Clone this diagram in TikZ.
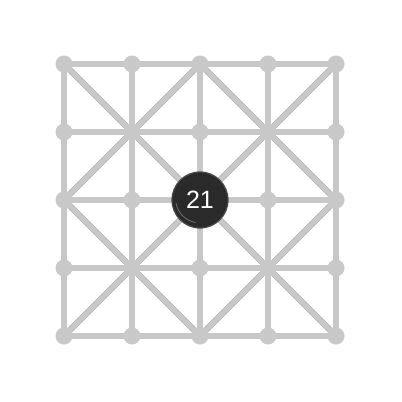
\documentclass[tikz,border=0pt]{standalone}
\usepackage{fontspec}
\setsansfont{Liberation Sans}
\begin{document}
\begin{tikzpicture}[x=1pt,y=-1pt,
  edge/.style={line width=5.5pt,draw=edgegray},
  edgeshadow/.style={line width=6pt,draw=shadowgray},
  dot/.style={circle,fill=edgegray,minimum size=17pt,inner sep=0pt},
  bignode/.style={circle,fill=darknode,draw=ringgray,line width=1.2pt,minimum size=56pt,inner sep=0pt,
    font=\sffamily\fontsize{25}{25}\selectfont,text=white}]
\definecolor{edgegray}{HTML}{C8C8C8}
\definecolor{shadowgray}{HTML}{8E8E8E}
\definecolor{darknode}{HTML}{2A2A2A}
\definecolor{ringgray}{HTML}{4A4A4A}
\useasboundingbox (0,0) rectangle (402,402);
\fill[white] (0,0) rectangle (402,402);
% coordinates
\foreach \i in {0,...,4}{
  \foreach \j in {0,...,4}{
    \coordinate (p\i\j) at ({64+68*\i},{64+68*\j});
  }
}
% edges (shadow then main)
\foreach \s/\dy in {edgeshadow/1.5,edge/0}{
  \begin{scope}[yshift=-\dy pt]
  \foreach \i in {0,...,4}{
    \draw[\s] (p\i0) -- (p\i4);
    \draw[\s] (p0\i) -- (p4\i);
  }
  \foreach \c/\d in {1/1,3/1,1/3,3/3}{
    \pgfmathtruncatemacro{\cm}{\c-1}
    \pgfmathtruncatemacro{\cp}{\c+1}
    \pgfmathtruncatemacro{\dm}{\d-1}
    \pgfmathtruncatemacro{\dp}{\d+1}
    \draw[\s] (p\cm\dm) -- (p\cp\dp);
    \draw[\s] (p\cp\dm) -- (p\cm\dp);
  }
  \end{scope}
}
% dots
\foreach \i in {0,...,4}{
  \foreach \j in {0,...,4}{
    \node[dot] (n\i\j) at (p\i\j) {};
  }
}
% central node
\node[bignode] (n21) at (p22) {21};
\draw[white!70!black,line width=0.8pt,opacity=0.5] ([shift={(-24,3)}]n21.center) arc[start angle=170,end angle=100,radius=24];
\end{tikzpicture}
\end{document}
